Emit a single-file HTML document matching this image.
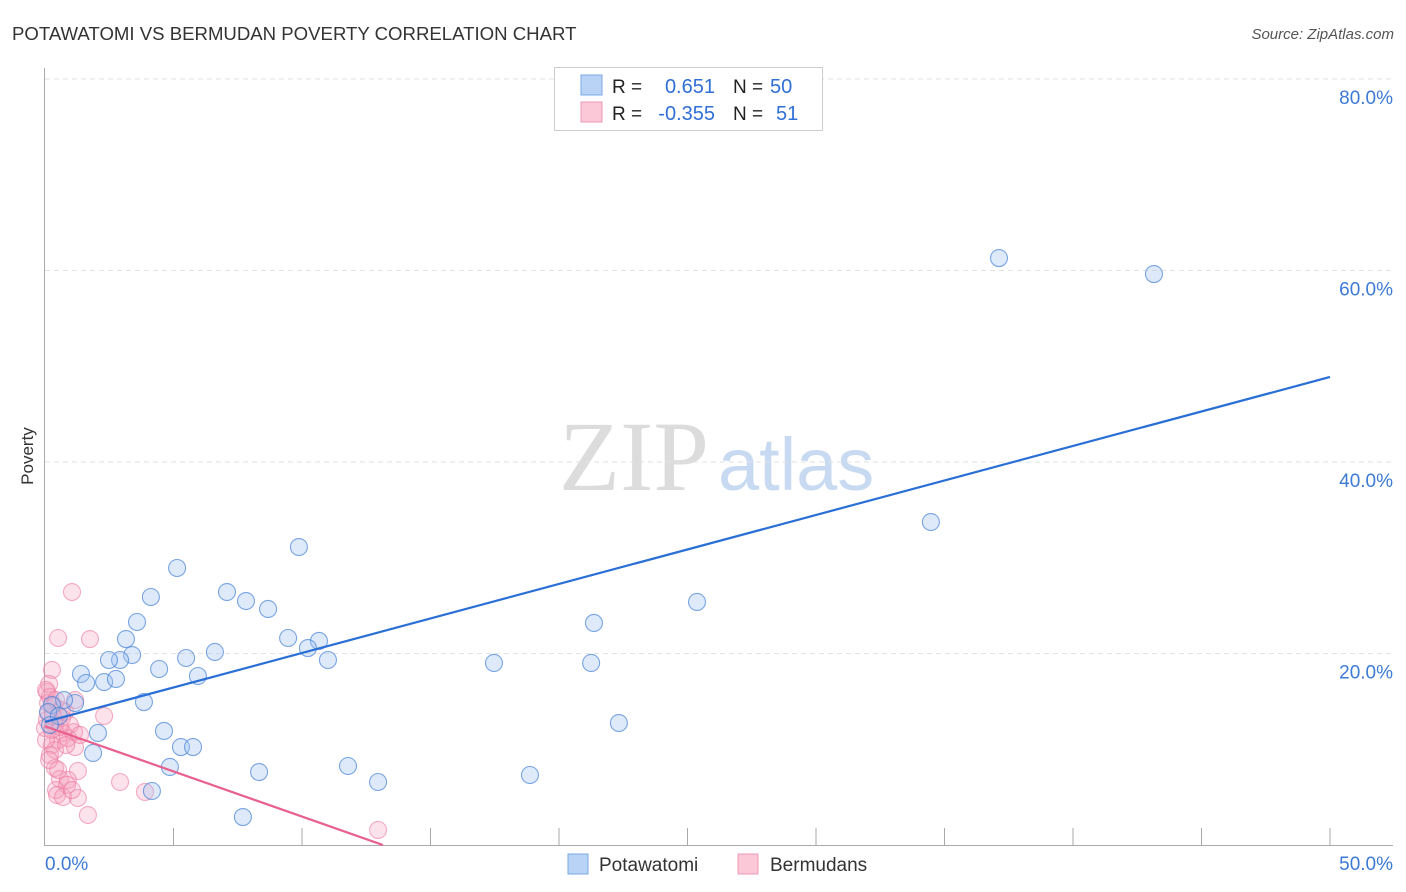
<!DOCTYPE html>
<html><head><meta charset="utf-8"><style>
html,body{margin:0;padding:0;background:#fff;width:1406px;height:892px;overflow:hidden;font-family:"Liberation Sans",sans-serif}
</style></head><body>
<svg id="chart" width="1406" height="892" xmlns="http://www.w3.org/2000/svg">
<text x="12" y="40" font-size="18.6" fill="#333">POTAWATOMI VS BERMUDAN POVERTY CORRELATION CHART</text>
<text x="1394" y="39" font-size="15" fill="#555" font-style="italic" text-anchor="end">Source: ZipAtlas.com</text>
<g>
<text x="634" y="490" font-size="100" font-family="Liberation Serif,serif" fill="#dcdcdc" text-anchor="middle">ZIP</text>
<text x="718" y="490" font-size="74" fill="#c8daf2">atlas</text>
</g>
<g id="grid"></g><g id="axes"></g><g id="marks"></g>
<text x="33" y="456" font-size="17" fill="#333" text-anchor="middle" transform="rotate(-90 33 456)">Poverty</text>
<g>
<rect x="554.5" y="67.5" width="268" height="63" fill="#fff" stroke="#ccc"/>
<rect x="581" y="75" width="21" height="20" fill="#b8d3f5" stroke="#7aa7e3"/>
<rect x="581" y="102" width="21" height="20" fill="#fbc8d7" stroke="#ee9ab5"/>
<text x="612" y="93" font-size="19" fill="#222">R =</text><text x="715" y="93" font-size="20" fill="#2f6fd6" text-anchor="end">0.651</text>
<text x="733" y="93" font-size="19" fill="#222">N =</text><text x="770" y="93" font-size="20" fill="#2f6fd6">50</text>
<text x="612" y="120" font-size="19" fill="#222">R =</text><text x="715" y="120" font-size="20" fill="#2f6fd6" text-anchor="end">-0.355</text>
<text x="733" y="120" font-size="19" fill="#222">N =</text><text x="776" y="120" font-size="20" fill="#2f6fd6">51</text>
</g>
<g>
<rect x="568" y="854" width="20" height="20" fill="#b8d3f5" stroke="#7aa7e3"/>
<text x="599" y="871" font-size="19" fill="#333">Potawatomi</text>
<rect x="738" y="854" width="20" height="20" fill="#fbc8d7" stroke="#ee9ab5"/>
<text x="770" y="871" font-size="19" fill="#333">Bermudans</text>
</g>
</svg>
<script>
const blueX=[37.12,43.15,34.47,25.37,21.36,21.25,17.47,22.33,18.87,12.96,11.79,9.88,5.14,7.08,7.82,8.68,4.12,3.58,3.15,9.46,10.66,10.23,11.01,6.61,5.49,5.95,4.44,3.39,2.92,2.49,1.40,1.60,2.30,2.76,3.85,1.17,0.74,0.27,0.12,0.54,2.06,1.87,4.63,5.29,5.76,4.86,8.33,4.16,7.70,0.19];
const blueY=[61.30,59.63,33.73,25.38,23.19,19.01,19.01,12.74,7.31,6.58,8.25,31.12,28.93,26.42,25.48,24.65,25.90,23.29,21.51,21.62,21.31,20.57,19.32,20.16,19.53,17.65,18.38,19.84,19.32,19.32,17.86,16.92,17.02,17.34,14.93,14.83,15.14,14.62,13.89,13.47,11.70,9.61,11.91,10.23,10.23,8.15,7.62,5.64,2.92,12.53];
const pinkX=[1.05,0.51,1.75,0.27,0.16,0.08,0.19,1.17,0.35,0.12,2.30,0.66,0.39,0,1.13,0.70,0.89,0.51,0.27,1.17,0.39,0.19,1.28,0.39,0.58,0.89,0.43,0.86,2.92,3.89,0.47,0.70,1.28,1.67,12.96,0.08,0.58,0.12,0.78,0.27,0.97,0.04,0.51,0.66,0.31,0.82,0.16,1.05,1.36,0.04,0.43];
const pinkY=[26.42,21.62,21.51,18.28,16.81,15.98,15.46,15.14,14.52,13.79,13.47,13.26,12.53,12.22,11.80,11.70,11.17,10.97,10.44,10.23,9.92,9.40,7.73,8.04,6.89,6.79,5.74,6.27,6.58,5.54,5.22,5.01,4.91,3.13,1.57,13.05,12.32,14.83,13.89,12.01,12.53,10.97,7.83,14.10,13.47,10.44,8.88,5.74,11.49,16.19,15.14];
const blueTrend=[[0,12.85],[50,48.88]];
const pinkTrend=[[0,12.4],[13.15,0]];
const yTicks=[20,40,60,80];
const yTickLabels=["20.0%","40.0%","60.0%","80.0%"];
const xTicks=[5,10,15,20,25,30,35,40,45,50];

const NS="http://www.w3.org/2000/svg";
const sx=v=>45+v*25.7, sy=v=>845-v*9.575;
function mk(tag,attrs,parent){const e=document.createElementNS(NS,tag);for(const k in attrs)e.setAttribute(k,attrs[k]);parent.appendChild(e);return e;}
const grid=document.getElementById('grid'),axes=document.getElementById('axes'),marks=document.getElementById('marks');
yTicks.forEach((t,i)=>{
  const l=mk('line',{x1:45,x2:1393,y1:sy(t),y2:sy(t),stroke:'#e2e2e2','stroke-dasharray':'5,4'},grid);
  
  
  const tx=mk('text',{x:1393,y:sy(t)+25,'font-size':19,fill:'#3d7ad6','text-anchor':'end'},axes);
  tx.textContent=yTickLabels[i];
  
  
});
let a=mk('line',{x1:44.5,x2:44.5,y1:68,y2:845,stroke:'#aaa'},axes);


a=mk('line',{x1:44,x2:1393,y1:845.5,y2:845.5,stroke:'#aaa'},axes);


xTicks.forEach(t=>{
  const l=mk('line',{x1:sx(t),x2:sx(t),y1:828,y2:845,stroke:'#aaa'},axes);
  
  
});
let t0=mk('text',{x:45,y:870,'font-size':19,fill:'#3d7ad6'},axes);t0.textContent='0.0%';


let t1=mk('text',{x:1393,y:870,'font-size':19,fill:'#3d7ad6','text-anchor':'end'},axes);t1.textContent='50.0%';


pinkX.forEach((x,i)=>{
  const c=mk('circle',{cx:sx(x),cy:sy(pinkY[i]),r:8.5,fill:'rgba(246,160,190,0.3)',stroke:'rgba(236,120,160,0.6)','stroke-width':1.1},marks);
  
  
});
blueX.forEach((x,i)=>{
  const c=mk('circle',{cx:sx(x),cy:sy(blueY[i]),r:8.5,fill:'rgba(160,196,240,0.35)',stroke:'rgba(70,130,215,0.7)','stroke-width':1.1},marks);
  
  
});
let bl=mk('line',{x1:sx(blueTrend[0][0]),y1:sy(blueTrend[0][1]),x2:sx(blueTrend[1][0]),y2:sy(blueTrend[1][1]),stroke:'#2a6fd6','stroke-width':2.2},marks);


let pl=mk('line',{x1:sx(pinkTrend[0][0]),y1:sy(pinkTrend[0][1]),x2:sx(pinkTrend[1][0]),y2:sy(pinkTrend[1][1]),stroke:'#e8608f','stroke-width':2.2},marks);


</script>
</body></html>
